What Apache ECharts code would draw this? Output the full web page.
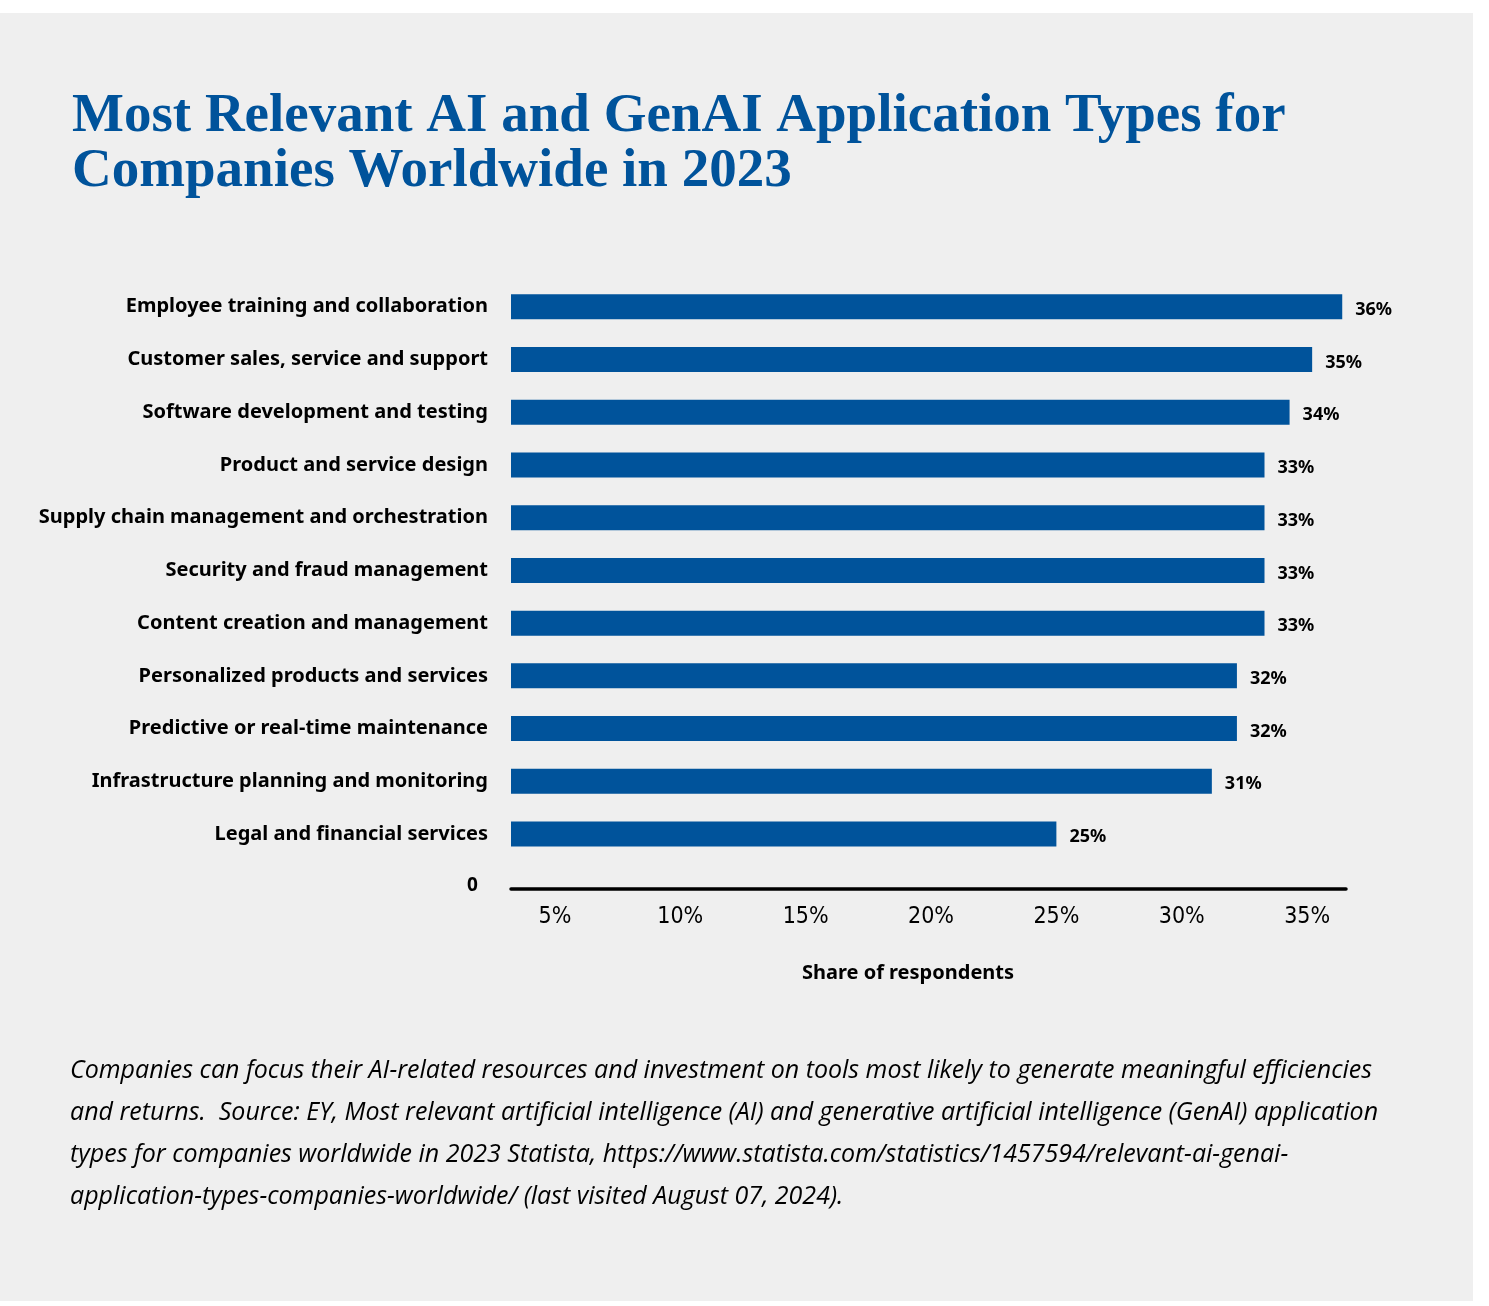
<!DOCTYPE html>
<html>
<head>
<meta charset="utf-8">
<script src="https://cdn.jsdelivr.net/npm/echarts@6/dist/echarts.min.js"></script>
<style>
  html, body { margin: 0; padding: 0; background: #ffffff; }
  #panel { position: absolute; left: 0; top: 13px; width: 1473px; height: 1288px; background: #efefef; }
  #chart { position: absolute; left: 0; top: 0; width: 1489px; height: 1306px; }
</style>
</head>
<body>
<div id="panel"></div>
<div id="chart"></div>
<script>
// ---- data ----
const categories = [
  'Employee training and collaboration',
  'Customer sales, service and support',
  'Software development and testing',
  'Product and service design',
  'Supply chain management and orchestration',
  'Security and fraud management',
  'Content creation and management',
  'Personalized products and services',
  'Predictive or real-time maintenance',
  'Infrastructure planning and monitoring',
  'Legal and financial services'
];
// share of respondents (%), bar lengths read against the axis; labels show rounded values
const shares = [36.4, 35.2, 34.3, 33.3, 33.3, 33.3, 33.3, 32.2, 32.2, 31.2, 25.0];
const tickValues = [5, 10, 15, 20, 25, 30, 35];
const titleText = 'Most Relevant AI and GenAI Application Types for\nCompanies Worldwide in 2023';
const axisTitle = 'Share of respondents';
const footerLines = [
  'Companies can focus their AI-related resources and investment on tools most likely to generate meaningful efficiencies',
  'and returns.  Source: EY, Most relevant artificial intelligence (AI) and generative artificial intelligence (GenAI) application',
  'types for companies worldwide in 2023 Statista, https://www.statista.com/statistics/1457594/relevant-ai-genai-',
  'application-types-companies-worldwide/ (last visited August 07, 2024).'
];

const BLUE = '#00539b';
const SANS = '"Noto Sans", "Open Sans", sans-serif';
const ITALIC = '"Open Sans", "Noto Sans", sans-serif';
const NARROW = '"Liberation Sans Narrow", "DejaVu Sans Condensed", Roboto, sans-serif';

const chart = echarts.init(document.getElementById('chart'), null, { renderer: 'canvas' });
chart.setOption({
  backgroundColor: 'transparent',
  animation: false,
  title: {
    text: titleText,
    left: 67,
    top: 84,
    textStyle: {
      fontFamily: '"Liberation Serif", "DejaVu Serif", serif',
      fontWeight: 'bold',
      fontSize: 55,
      lineHeight: 55,
      color: BLUE
    }
  },
  grid: { left: 511, right: 143, top: 280.4, bottom: 445.6, containLabel: false },
  xAxis: {
    type: 'value',
    min: 3.25,
    max: 36.55,
    position: 'bottom',
    offset: 28.6,
    axisLine: { show: true, lineStyle: { color: '#000', width: 3.5 } },
    axisTick: { show: false },
    splitLine: { show: false },
    axisLabel: {
      customValues: tickValues,
      formatter: '{value}%',
      margin: 17,
      fontFamily: NARROW,
      fontSize: 23,
      color: '#000'
    }
  },
  yAxis: {
    type: 'category',
    inverse: true,
    data: categories,
    axisLine: { show: false },
    axisTick: { show: false },
    splitLine: { show: false },
    axisLabel: {
      margin: 23,
      padding: [6, 0, 0, 0],
      fontFamily: SANS,
      fontWeight: 'bold',
      fontSize: 20,
      color: '#000'
    }
  },
  series: [{
    type: 'bar',
    data: shares,
    barWidth: 25,
    itemStyle: { color: BLUE },
    label: {
      show: true,
      position: 'right',
      distance: 13,
      offset: [0, 3],
      formatter: p => Math.round(p.value) + '%',
      fontFamily: SANS,
      fontWeight: 'bold',
      fontSize: 18,
      color: '#000'
    }
  }],
  graphic: [
    {
      type: 'text',
      left: 467, top: 876,
      style: { text: '0', font: 'bold 19px ' + SANS, fill: '#000' }
    },
    {
      type: 'text',
      x: 908, y: 973,
      style: { text: axisTitle, font: 'bold 20px ' + SANS, fill: '#000', align: 'center', verticalAlign: 'middle' }
    },
    {
      type: 'text',
      x: 70, y: 1050,
      style: {
        text: footerLines.join('\n'),
        font: 'italic 25px ' + ITALIC,
        lineHeight: 42,
        fill: '#000',
        align: 'left',
        verticalAlign: 'top'
      }
    }
  ]
});
</script>
</body>
</html>
